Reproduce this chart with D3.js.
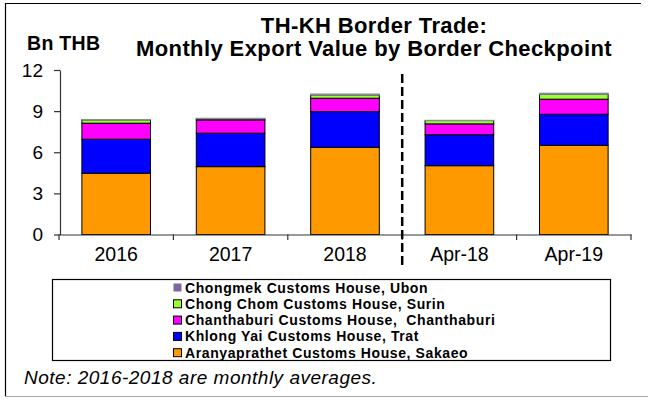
<!DOCTYPE html>
<html><head><meta charset="utf-8">
<script src="https://cdn.jsdelivr.net/npm/d3@7"></script>
<style>
body{margin:0;background:#fff;}
text{font-family:"Liberation Sans",Arial,sans-serif;}
</style></head>
<body><svg id="c" width="648" height="403"></svg>
<script>
const categories = ["2016","2017","2018","Apr-18","Apr-19"];
const aranyaprathet = [4.47, 4.95, 6.36, 5.02, 6.51];
const khlongYai = [2.48, 2.44, 2.60, 2.26, 2.26];
const chanthaburi = [1.17, 0.97, 0.98, 0.79, 1.10];
const chongChom = [0.24, 0.08, 0.24, 0.24, 0.36];
const chongmek = [0.03, 0.04, 0.07, 0.02, 0.08];
const seriesNames = ["Aranyaprathet Customs House, Sakaeo","Khlong Yai Customs House, Trat","Chanthaburi Customs House,  Chanthaburi","Chong Chom Customs House, Surin","Chongmek Customs House, Ubon"];
const seriesColors = ["#FF9900","#0000FF","#FF00FF","#99FF33","#7F669F"];
const yTicks = [0,3,6,9,12];
const titleLines = ["TH-KH Border Trade:","Monthly Export Value by Border Checkpoint"];
const yUnit = "Bn THB";
const note = "Note: 2016-2018 are monthly averages.";

const svg = d3.select("#c");
// frame
svg.append("line").attr("x1",5).attr("x2",641).attr("y1",3.5).attr("y2",3.5).attr("stroke","#000").attr("stroke-width",1.2);
svg.append("line").attr("x1",5.5).attr("x2",5.5).attr("y1",3).attr("y2",396).attr("stroke","#000").attr("stroke-width",1.2);
svg.append("line").attr("x1",5).attr("x2",648).attr("y1",396.5).attr("y2",396.5).attr("stroke","#aaa").attr("stroke-width",1.2);

const x = d3.scaleBand().domain(categories).range([59,631]).paddingInner(0.4).paddingOuter(0.2);
const y = d3.scaleLinear().domain([0,12]).range([234.5,70]);

const rows = categories.map((c,i)=>({cat:c, s0:aranyaprathet[i], s1:khlongYai[i], s2:chanthaburi[i], s3:chongChom[i], s4:chongmek[i]}));
const stack = d3.stack().keys(["s0","s1","s2","s3","s4"])(rows);

const g = svg.append("g");
stack.forEach((layer,k)=>{
  g.selectAll(null).data(layer).enter().append("rect")
    .attr("x",d=>x(d.data.cat)).attr("width",x.bandwidth())
    .attr("y",d=>y(d[1])).attr("height",d=>y(d[0])-y(d[1]))
    .attr("fill",seriesColors[k]).attr("stroke",k===4?"#8a8a9a":"#000").attr("stroke-width",1);
});

// y axis
const ya = svg.append("g").attr("transform","translate(60,0)")
  .call(d3.axisLeft(y).tickValues(yTicks).tickSize(6).tickPadding(11).tickSizeOuter(0));
ya.select(".domain").attr("stroke","#333").attr("stroke-width",1.2);
ya.selectAll(".tick line").attr("stroke","#333").attr("stroke-width",1.2);
ya.selectAll(".tick text").attr("font-size",19).attr("fill","#000").attr("font-family","Liberation Sans, Arial, sans-serif");

// x axis
const xa = svg.append("g").attr("transform","translate(0,234.5)")
  .call(d3.axisBottom(x).tickSize(0).tickPadding(13));
xa.select(".domain").attr("stroke","#333").attr("stroke-width",1.2);
xa.selectAll(".tick text").attr("font-size",19.5).attr("fill","#000").attr("font-family","Liberation Sans, Arial, sans-serif").attr("dy","0.71em");
// boundary ticks
const step = x.step();
const bounds = d3.range(categories.length+1).map(i=>x.range()[0]+i*step);
svg.append("g").selectAll("line").data(bounds).enter().append("line")
  .attr("x1",d=>d).attr("x2",d=>d).attr("y1",234.5).attr("y2",240)
  .attr("stroke","#333").attr("stroke-width",1.2);

// dashed separator between 2018 and Apr-18
const sepX = (x("2018")+x.bandwidth()+x("Apr-18"))/2;
svg.append("line").attr("x1",sepX).attr("x2",sepX).attr("y1",74).attr("y2",268)
  .attr("stroke","#000").attr("stroke-width",2.5).attr("stroke-dasharray","9,4");

// title
svg.append("g").selectAll("text").data(titleLines).enter().append("text")
  .attr("x",374).attr("y",(d,i)=>33+i*23).attr("text-anchor","middle")
  .attr("font-size",22).attr("font-weight","bold").attr("letter-spacing",0.4).text(d=>d);
svg.append("text").attr("x",27).attr("y",50).attr("font-size",19.5).attr("font-weight","bold").attr("letter-spacing",0.3).text(yUnit);

// legend
svg.append("rect").attr("x",52.5).attr("y",279.5).attr("width",558).attr("height",81)
  .attr("fill","#fff").attr("stroke","#000").attr("stroke-width",1.2);
const legOrder = [4,3,2,1,0];
const lg = svg.append("g").selectAll("g").data(legOrder).enter().append("g")
  .attr("transform",(d,i)=>`translate(173,${287.5+i*16.3})`);
lg.append("rect").attr("x",0.5).attr("y",-4).attr("width",8).attr("height",8)
  .attr("fill",d=>seriesColors[d]).attr("stroke",d=>d===4?"none":"#000").attr("stroke-width",1);
lg.append("text").attr("x",12).attr("y",5).attr("font-size",14).attr("font-weight","bold").attr("letter-spacing",0.6)
  .style("white-space","pre").text(d=>seriesNames[d]);

svg.append("text").attr("x",24).attr("y",384).attr("font-size",19).attr("font-style","italic").attr("letter-spacing",0.5).text(note);
</script></body></html>
